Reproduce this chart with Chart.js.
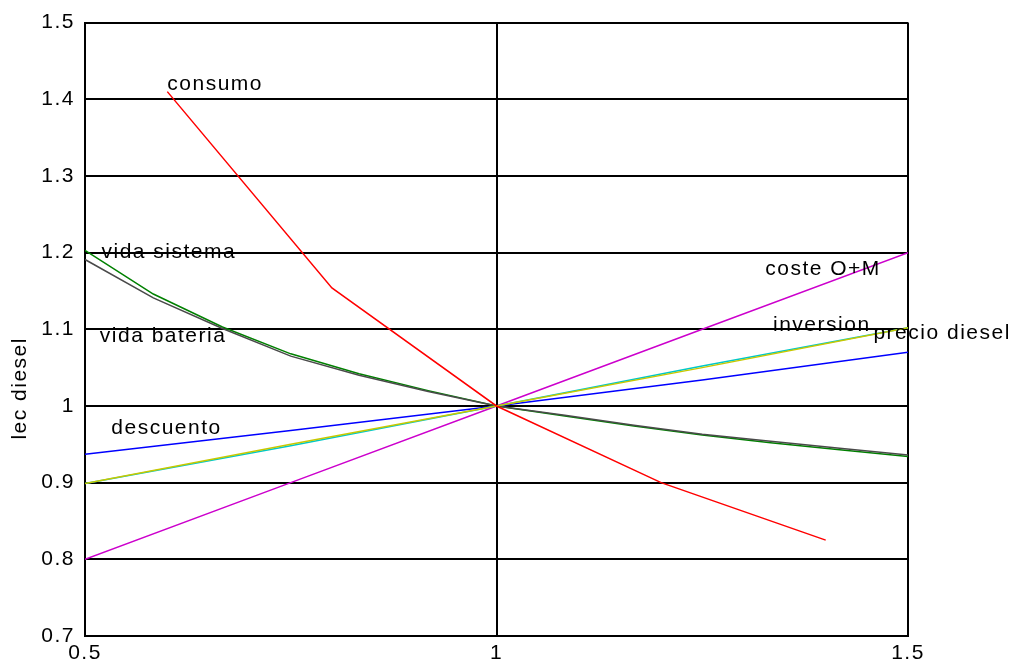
<!DOCTYPE html>
<html lang="es">
<head>
<meta charset="UTF-8">
<title>lec diesel - sensibilidad</title>
<script src="https://cdn.jsdelivr.net/npm/chart.js@4"></script>
<style>
  * { margin: 0; padding: 0; box-sizing: border-box; }
  body { background: #fff; width: 1020px; height: 666px; overflow: hidden; }
  #wrap { position: relative; width: 1020px; height: 666px; }
</style>
</head>
<body>
<div id="wrap"><canvas id="chart" width="1020" height="666"></canvas></div>
<script>
  // factor de variacion (eje x)
  const xTwelfths = [0.5, 0.583, 0.667, 0.75, 0.833, 0.917, 1, 1.083, 1.167, 1.25, 1.333, 1.417, 1.5];
  const xQuarters = [0.5, 0.75, 1, 1.25, 1.5];
  const xConsumo = [0.6, 0.8, 1, 1.2, 1.4];

  // lec diesel relativo
  const consumo = [1.41, 1.154, 1.0, 0.9, 0.825];
  const vidaSistema = [1.203, 1.146, 1.103, 1.068, 1.042, 1.020, 1.0, 0.987, 0.974, 0.962, 0.952, 0.943, 0.934];
  const vidaBateria = [1.191, 1.141, 1.101, 1.065, 1.040, 1.019, 1.0, 0.988, 0.975, 0.963, 0.954, 0.945, 0.936];
  const descuento = [0.937, 0.968, 1.0, 1.034, 1.07];
  const costeOM = [0.8, 0.9, 1.0, 1.1, 1.2];
  const inversion = [0.899, 0.948, 1.0, 1.052, 1.102];
  const precioDiesel = [0.899, 0.950, 1.0, 1.050, 1.102];

  const yTicks = [0.7, 0.8, 0.9, 1, 1.1, 1.2, 1.3, 1.4, 1.5];
  const xTicks = [0.5, 1, 1.5];

  const pts = (xs, ys) => xs.map((x, i) => ({ x, y: ys[i] }));

  const FONT = 'Liberation Sans, Arial, sans-serif';
  const SPACING = '1.5px';

  // series labels written inside the plot, anchored in data units
  const seriesLabels = [
    { text: 'consumo', x: 0.6, y: 1.412 },
    { text: 'vida sistema', x: 0.52, y: 1.1925 },
    { text: 'vida bateria', x: 0.518, y: 1.083 },
    { text: 'descuento', x: 0.532, y: 0.964 },
    { text: 'coste O+M', x: 1.3265, y: 1.171 },
    { text: 'inversion', x: 1.336, y: 1.098 },
    { text: 'precio diesel', x: 1.458, y: 1.087 },
  ];

  const textPlugin = {
    id: 'textPlugin',
    beforeDraw(chart) {
      chart.ctx.letterSpacing = SPACING;
    },
    afterDraw(chart) {
      const ctx = chart.ctx;
      const xs = chart.scales.x, ys = chart.scales.y;
      ctx.save();
      ctx.letterSpacing = SPACING;
      ctx.fillStyle = '#000';
      ctx.font = '21px ' + FONT;
      ctx.textAlign = 'left';
      ctx.textBaseline = 'alphabetic';
      seriesLabels.forEach(l => {
        ctx.fillText(l.text, xs.getPixelForValue(l.x), ys.getPixelForValue(l.y));
      });
      // axis title
      ctx.translate(26, ys.getPixelForValue(1.023));
      ctx.rotate(-Math.PI / 2);
      ctx.textAlign = 'center';
      ctx.fillText('lec diesel', 0, 0);
      ctx.restore();
    }
  };

  const line = (label, data, color, order) => ({
    label, data, borderColor: color, backgroundColor: color,
    borderWidth: 1.5, pointRadius: 0, tension: 0, fill: false, order
  });

  new Chart(document.getElementById('chart'), {
    type: 'line',
    data: {
      datasets: [
        line('consumo', pts(xConsumo, consumo), '#ff0000', 0),
        line('precio diesel', pts(xQuarters, precioDiesel), '#c8c800', 1),
        line('inversion', pts(xQuarters, inversion), '#00c8c8', 2),
        line('vida bateria', pts(xTwelfths, vidaBateria), '#4a4a4a', 3),
        line('vida sistema', pts(xTwelfths, vidaSistema), '#008000', 4),
        line('descuento', pts(xQuarters, descuento), '#0000ff', 5),
        line('coste O+M', pts(xQuarters, costeOM), '#cc00cc', 6),
      ]
    },
    options: {
      responsive: false,
      animation: false,
      devicePixelRatio: 1,
      layout: { padding: { left: 0, right: 112, top: 22, bottom: 0 } },
      plugins: { legend: { display: false }, tooltip: { enabled: false } },
      scales: {
        x: {
          type: 'linear', min: 0.5, max: 1.5,
          afterBuildTicks: s => { s.ticks = xTicks.map(v => ({ value: v })); },
          afterFit: s => { s.height = 30; },
          grid: { color: '#000', lineWidth: 2, drawTicks: false },
          border: { color: '#000', width: 2 },
          ticks: { color: '#000', font: { family: FONT, size: 21 }, padding: 5, maxRotation: 0,
                   callback: v => String(+v.toFixed(1)) }
        },
        y: {
          type: 'linear', min: 0.7, max: 1.5,
          afterBuildTicks: s => { s.ticks = yTicks.map(v => ({ value: v })); },
          afterFit: s => { s.width = 85; },
          grid: { color: '#000', lineWidth: 2, drawTicks: false },
          border: { color: '#000', width: 2 },
          ticks: { color: '#000', font: { family: FONT, size: 21 }, padding: 10,
                   callback: v => String(+v.toFixed(1)) }
        }
      }
    },
    plugins: [textPlugin]
  });
</script>
</body>
</html>
